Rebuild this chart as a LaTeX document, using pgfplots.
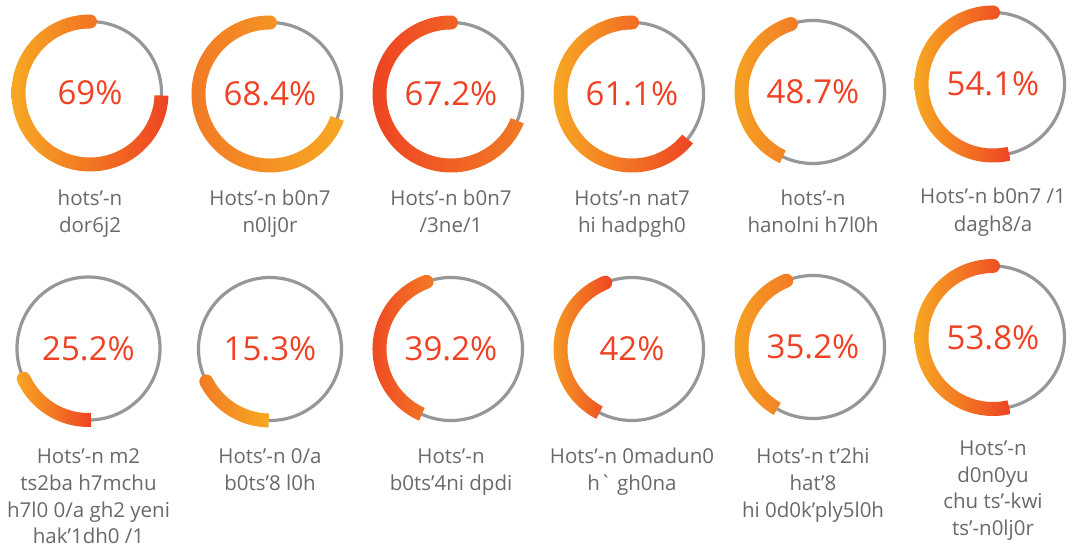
\documentclass[border=0pt]{standalone}
\usepackage{fontspec}
\setmainfont{Open Sans}
\usepackage{pgfplots}
\pgfplotsset{compat=1.18}
\usetikzlibrary{calc}
\definecolor{gy}{HTML}{F7A823}
\definecolor{go}{HTML}{F27A25}
\definecolor{gr}{HTML}{EE4423}
\definecolor{ringgray}{HTML}{96979A}
\definecolor{pctred}{HTML}{EF4123}
\definecolor{labgray}{HTML}{68696C}
% cx, cy (axis units = px), start angle (round cap), end angle (flat), left colour, right colour
\newcommand\donut[6]{%
  \draw[ringgray, line width=3.2pt] (#1,#2) circle[radius=71.5pt];
  \shade[left color=#5, right color=#6]
    ($(#1,#2)+(#3:78.5pt)$) arc[start angle=#3, end angle=#4, radius=78.5pt]
    -- ++({#4+180}:14pt) arc[start angle=#4, end angle=#3, radius=64.5pt]
    arc[start angle={#3+180}, delta angle=180, radius=7pt] -- cycle;
}
\newcommand\pct[3]{\node[anchor=base, inner sep=0pt, text=pctred, font=\fontsize{33}{33}\selectfont] at (#1,#2) {#3};}
\newcommand\lab[3]{\node[anchor=base, inner sep=0pt, text=labgray, font=\fontsize{20.5}{20.5}\selectfont] at (#1,#2) {#3};}
\begin{document}
\begin{tikzpicture}
\begin{axis}[x=1pt, y=1pt, xmin=0, xmax=1078, ymin=0, ymax=546,
  hide axis, clip=false, scale only axis]
% row 1
\donut{90}{453}{90}{358}{gy}{gr}
\donut{270}{452}{90}{340}{go}{gy}
\donut{451}{452}{90}{338}{gr}{go}
\donut{632}{452}{90}{321}{gy}{gr}
\donut{813}{454}{108}{245}{gy}{go}
\donut{993}{462}{90}{283}{gy}{gr}
% row 2
\donut{88.5}{197.5}{205}{272}{gy}{gr}
\donut{270}{197}{207}{269}{go}{gy}
\donut{451}{197}{110}{246}{gr}{go}
\donut{632}{197}{112}{243}{gy}{gr}
\donut{813}{199}{112}{240}{gy}{go}
\donut{993}{208.5}{90}{283}{gy}{gr}
% percentages
\pct{90}{441}{69\%}
\pct{270}{440}{68.4\%}
\pct{451}{440}{67.2\%}
\pct{632}{440}{61.1\%}
\pct{813}{442}{48.7\%}
\pct{993}{450}{54.1\%}
\pct{88.5}{185.5}{25.2\%}
\pct{270}{185}{15.3\%}
\pct{451}{185}{39.2\%}
\pct{632}{185}{42\%}
\pct{813}{187}{35.2\%}
\pct{993}{196.5}{53.8\%}
% labels row 1
\lab{90}{340}{hots’-n}\lab{90}{313}{dor6j2}
\lab{270}{340}{Hots’-n b0n7}\lab{270}{313}{n0lj0r}
\lab{451}{340}{Hots’-n b0n7}\lab{451}{313}{/3ne/1}
\lab{632}{340}{Hots’-n nat7}\lab{632}{313}{hi hadpgh0}
\lab{813}{340}{hots’-n}\lab{813}{313}{hanolni h7l0h}
\lab{993}{342}{Hots’-n b0n7 /1}\lab{993}{314}{dagh8/a}
% labels row 2
\lab{88.5}{83}{Hots’-n m2}\lab{88.5}{56}{ts2ba h7mchu}\lab{88.5}{29}{h7l0 0/a gh2 yeni}\lab{88.5}{3}{hak’1dh0 /1}
\lab{270}{83}{Hots’-n 0/a}\lab{270}{56}{b0ts’8 l0h}
\lab{451}{83}{Hots’-n}\lab{451}{56}{b0ts’4ni dpdi}
\lab{632}{83}{Hots’-n 0madun0}\lab{632}{56}{h\textasciigrave{} gh0na}
\lab{813}{83}{Hots’-n t’2hi}\lab{813}{56}{hat’8}\lab{813}{29}{hi 0d0k’ply5l0h}
\lab{993}{91}{Hots’-n}\lab{993}{64}{d0n0yu}\lab{993}{38}{chu ts’-kwi}\lab{993}{11}{ts’-n0lj0r}
\end{axis}
\pgfresetboundingbox
\useasboundingbox (0,0) rectangle (1078pt,546pt);
\end{tikzpicture}
\end{document}
